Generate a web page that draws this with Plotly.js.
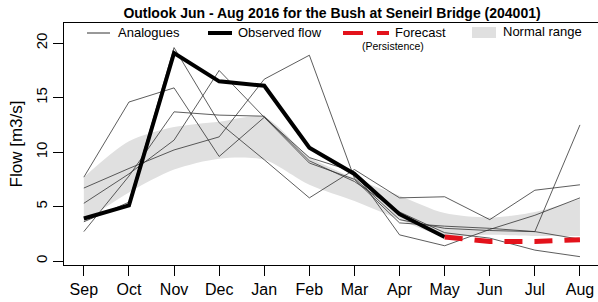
<!DOCTYPE html>
<html>
<head>
<meta charset="utf-8">
<script src="https://cdn.plot.ly/plotly-3.0.1.min.js"></script>
<style>html,body{margin:0;padding:0;background:#fff;}#chart{width:598px;height:302px;}</style>
</head>
<body>
<div id="chart"></div>
<script>
// ---- data ----
const months = ['Sep','Oct','Nov','Dec','Jan','Feb','Mar','Apr','May','Jun','Jul','Aug'];
const normalLower = [3.6, 6.3, 8.4, 9.4, 9.3, 7.0, 5.5, 3.8, 2.3, 2.4, 2.3, 2.3];
const normalUpper = [7.7, 11.0, 12.3, 12.8, 13.2, 9.6, 7.6, 6.0, 4.4, 4.0, 4.5, 5.7];
const analogue1 = [7.7, 14.6, 15.9, 9.6, 13.2, 9.0, 7.5, 3.5, 3.2, 3.0, 2.7, 12.5];
const analogue2 = [3.6, 5.4, 19.6, 12.7, 9.3, 5.8, 8.4, 5.8, 5.9, 3.8, 6.5, 7.0];
const analogue3 = [5.3, 8.0, 11.1, 17.5, 13.2, 9.5, 8.2, 2.4, 1.4, 2.9, 4.2, 5.8];
const analogue4 = [6.7, 8.5, 10.2, 11.4, 16.7, 18.9, 7.6, 3.8, 3.0, 2.8, 2.7, 2.0];
const analogue5 = [2.7, 7.8, 13.7, 13.4, 13.3, 9.2, 7.3, 4.5, 2.6, 2.1, 1.0, 0.4];
const observedMonths = ['Sep','Oct','Nov','Dec','Jan','Feb','Mar','Apr','May'];
const observed = [3.9, 5.1, 19.1, 16.5, 16.1, 10.4, 8.0, 4.3, 2.2];
const forecastMonths = ['May','Jun','Jul','Aug'];
const forecast = [2.2, 1.8, 1.8, 1.95];
const yTicks = [0, 5, 10, 15, 20];

const analogues = [analogue1, analogue2, analogue3, analogue4, analogue5];
const FONT = 'Liberation Sans, Arial, sans-serif';

const traces = [];
traces.push({x: months, y: normalLower, type: 'scatter', mode: 'lines',
  line: {width: 0, shape: 'spline', smoothing: 0.8}, hoverinfo: 'skip'});
traces.push({x: months, y: normalUpper, type: 'scatter', mode: 'lines',
  line: {width: 0, shape: 'spline', smoothing: 0.8}, fill: 'tonexty', fillcolor: '#e0e0e0', hoverinfo: 'skip'});
analogues.forEach(a => traces.push({x: months, y: a, type: 'scatter', mode: 'lines',
  line: {color: '#333333', width: 0.8}}));
traces.push({x: observedMonths, y: observed, type: 'scatter', mode: 'lines',
  line: {color: '#000', width: 4}});
traces.push({x: forecastMonths, y: forecast, type: 'scatter', mode: 'lines',
  line: {color: '#e3121b', width: 5, dash: '18px,12px'}});

// paper coords helpers for the manual legend
const L = 64, T = 23, W = 534, H = 242;
const px = v => (v - L) / W;
const py = v => (T + H - v) / H;

const shapes = [
  {type: 'line', xref: 'paper', yref: 'paper', x0: px(87), x1: px(110), y0: py(33), y1: py(33), line: {color: '#333333', width: 1}},
  {type: 'line', xref: 'paper', yref: 'paper', x0: px(208), x1: px(232), y0: py(33), y1: py(33), line: {color: '#000', width: 4}},
  {type: 'line', xref: 'paper', yref: 'paper', x0: px(343), x1: px(363), y0: py(33), y1: py(33), line: {color: '#e3121b', width: 4}},
  {type: 'line', xref: 'paper', yref: 'paper', x0: px(377), x1: px(389), y0: py(33), y1: py(33), line: {color: '#e3121b', width: 4}},
  {type: 'rect', xref: 'paper', yref: 'paper', x0: px(472), x1: px(496), y0: py(38), y1: py(27), fillcolor: '#e0e0e0', line: {width: 0}}
];
const annotations = [
  {text: 'Analogues', x: px(116), y: py(33)},
  {text: 'Observed flow', x: px(236), y: py(33)},
  {text: 'Forecast', x: px(393), y: py(33)},
  {text: 'Normal range', x: px(501), y: py(32)}
].map(a => Object.assign({xref: 'paper', yref: 'paper', xanchor: 'left', yanchor: 'middle', showarrow: false,
  font: {family: FONT, size: 13, color: '#000'}}, a));
annotations.push({text: '(Persistence)', xref: 'paper', yref: 'paper', x: px(393), y: py(46), xanchor: 'center', yanchor: 'middle',
  showarrow: false, font: {family: FONT, size: 10.5, color: '#000'}});

const layout = {
  width: 598, height: 302,
  margin: {l: 64, r: 0, t: 23, b: 37, pad: 0},
  paper_bgcolor: '#fff', plot_bgcolor: '#fff',
  showlegend: false,
  title: {text: '<b>Outlook Jun - Aug 2016 for the Bush at Seneirl Bridge (204001)</b>',
    x: 332 / 598, xanchor: 'center', xref: 'container', y: 1 - 13 / 302, yanchor: 'middle', yref: 'container',
    font: {family: FONT, size: 14, color: '#000'}},
  xaxis: {type: 'category', categoryorder: 'array', categoryarray: months,
    range: [-0.44, 11.40], showgrid: false, zeroline: false,
    showline: true, linecolor: '#000', linewidth: 1, mirror: true,
    ticks: 'outside', ticklen: 10, tickcolor: '#000', tickwidth: 1,
    tickfont: {family: FONT, size: 16, color: '#000'}},
  yaxis: {range: [-0.367, 21.86], tickvals: yTicks, ticktext: yTicks.map(String), tickangle: -90,
    showgrid: false, zeroline: false,
    showline: true, linecolor: '#000', linewidth: 1, mirror: true,
    ticks: 'outside', ticklen: 10, tickcolor: '#000', tickwidth: 1,
    tickfont: {family: FONT, size: 15, color: '#000'},
    title: {text: 'Flow [m3/s]', font: {family: FONT, size: 17, color: '#000'}, standoff: 6}},
  shapes: shapes,
  annotations: annotations
};

Plotly.newPlot('chart', traces, layout, {displayModeBar: false, staticPlot: true});
</script>
</body>
</html>
